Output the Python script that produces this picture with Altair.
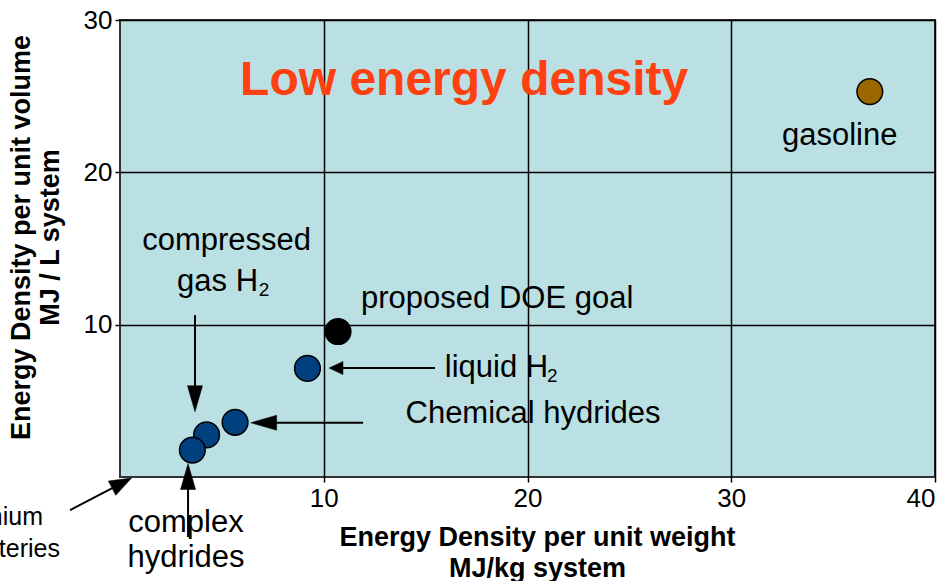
import altair as alt
import pandas as pd

# Hydrogen storage options versus gasoline: gravimetric vs volumetric energy density
systems = ["gasoline", "proposed DOE goal", "liquid H2",
           "chemical hydrides", "compressed gas H2", "complex hydrides"]
kind = ["fuel", "target", "hydrogen", "hydrogen", "hydrogen", "hydrogen"]
mj_per_kg = [36.8, 10.7, 9.2, 5.65, 4.25, 3.55]
mj_per_l = [25.3, 9.55, 7.13, 3.59, 2.76, 1.77]

# Callout labels (placed in data units)
label_text = ["gasoline", "compressed", "gas H", "proposed DOE goal", "liquid H",
              "Chemical hydrides", "complex", "hydrides"]
label_x = [35.32, 5.23, 4.79, 18.51, 18.48, 20.27, 3.24, 3.24]
label_y = [22.38, 15.49, 12.80, 11.68, 7.15, 4.13, -2.99, -5.31]

# Subscript "2" of the H2 labels
sub_text = ["2", "2"]
sub_x = [7.07, 21.22]
sub_y = [12.30, 6.62]

# Battery callout, partly outside the frame
battery_text = ["lithium", "batteries"]
battery_x = [-5.55, -5.30]
battery_y = [-2.62, -4.72]

headline = ["Low energy density"]
headline_x = [16.89]
headline_y = [25.98]

# Arrows: tail (x1, y1) -> head centre (x2, y2)
arrow_name = ["compressed", "liquid", "chemical", "complex", "lithium"]
arrow_x1 = [3.68, 15.46, 11.93, 3.34, -2.45]
arrow_y1 = [10.63, 7.15, 3.56, -3.94, -2.17]
arrow_x2 = [3.68, 10.60, 7.05, 3.34, 0.09]
arrow_y2 = [5.14, 7.15, 3.56, 0.03, -0.40]
arrow_angle = [180, 270, 270, 0, 62.6]

FONT = "Liberation Sans"

points = pd.DataFrame({"system": systems, "kind": kind, "x": mj_per_kg, "y": mj_per_l})
labels = pd.DataFrame({"text": label_text, "x": label_x, "y": label_y})
subs = pd.DataFrame({"text": sub_text, "x": sub_x, "y": sub_y})
batteries = pd.DataFrame({"text": battery_text, "x": battery_x, "y": battery_y})
head_df = pd.DataFrame({"text": headline, "x": headline_x, "y": headline_y})
arrows = pd.DataFrame({"name": arrow_name, "x": arrow_x1, "y": arrow_y1,
                       "x2": arrow_x2, "y2": arrow_y2, "angle": arrow_angle})

x_enc = alt.X(
    "x:Q",
    scale=alt.Scale(domain=[0, 40], nice=False, zero=False),
    axis=alt.Axis(values=[10, 20, 30, 40],
                  title=["Energy Density per unit weight", "MJ/kg system"],
                  titleX=417, titlePadding=13),
)
y_enc = alt.Y(
    "y:Q",
    scale=alt.Scale(domain=[0, 30], nice=False, zero=False),
    axis=alt.Axis(values=[10, 20, 30],
                  title=["Energy Density per unit volume", "MJ / L system"],
                  titlePadding=19, titleLineHeight=29, titleY=217),
)

dots = alt.Chart(points).mark_circle(size=660, stroke="black", strokeWidth=1.5, opacity=1).encode(
    x=x_enc,
    y=y_enc,
    color=alt.Color("kind:N",
                    scale=alt.Scale(domain=["fuel", "target", "hydrogen"],
                                    range=["#996600", "#000000", "#00407F"]),
                    legend=None),
)

shafts = alt.Chart(arrows).mark_rule(color="black", strokeWidth=2).encode(
    x=x_enc, y=y_enc, x2="x2:Q", y2="y2:Q"
)


def heads(names, path, size):
    return alt.Chart(arrows).transform_filter(
        alt.FieldOneOfPredicate(field="name", oneOf=names)
    ).mark_point(shape=path, size=size, filled=True, fill="black",
                 stroke="black", strokeWidth=0.5, opacity=1).encode(
        x=alt.X("x2:Q", scale=alt.Scale(domain=[0, 40], nice=False, zero=False)),
        y=alt.Y("y2:Q", scale=alt.Scale(domain=[0, 30], nice=False, zero=False)),
        angle=alt.Angle("angle:Q", scale=None),
    )


big_heads = heads(["compressed", "chemical", "complex"], "M0,-1L0.58,1L-0.58,1Z", 676)
small_head = heads(["liquid"], "M0,-1L0.93,1L-0.93,1Z", 196)
lith_head = heads(["lithium"], "M0,-1L0.73,1L-0.73,1Z", 484)


def text_layer(df, size, **kw):
    return alt.Chart(df).mark_text(font=FONT, fontSize=size, align="center",
                                   baseline="middle", **kw).encode(
        x=x_enc, y=y_enc, text="text:N"
    )


texts = text_layer(labels, 31, color="black")
sub_texts = text_layer(subs, 19, color="black")
battery_texts = text_layer(batteries, 25, color="black")
title_text = text_layer(head_df, 48, fontWeight="bold", color="#FF4010")

chart = alt.layer(
    dots, shafts, big_heads, small_head, lith_head,
    texts, sub_texts, battery_texts, title_text
).properties(
    width=815, height=457, autosize="none",
    padding={"left": 120, "top": 20, "right": 4, "bottom": 104},
    background="white",
).configure_view(
    fill="#BBE0E3", stroke="#333333", strokeWidth=2
).configure_axis(
    domain=False, grid=True, gridColor="black", gridWidth=1.5, gridOpacity=1,
    ticks=True, tickColor="black", tickSize=5, tickWidth=1.5,
    labelFont=FONT, labelFontSize=26, labelColor="black", labelPadding=3,
    titleFont=FONT, titleFontSize=27, titleFontWeight="bold", titleColor="black",
    titleLineHeight=31,
)

chart.save("out.html", embed_options={"renderer": "svg", "actions": False})
